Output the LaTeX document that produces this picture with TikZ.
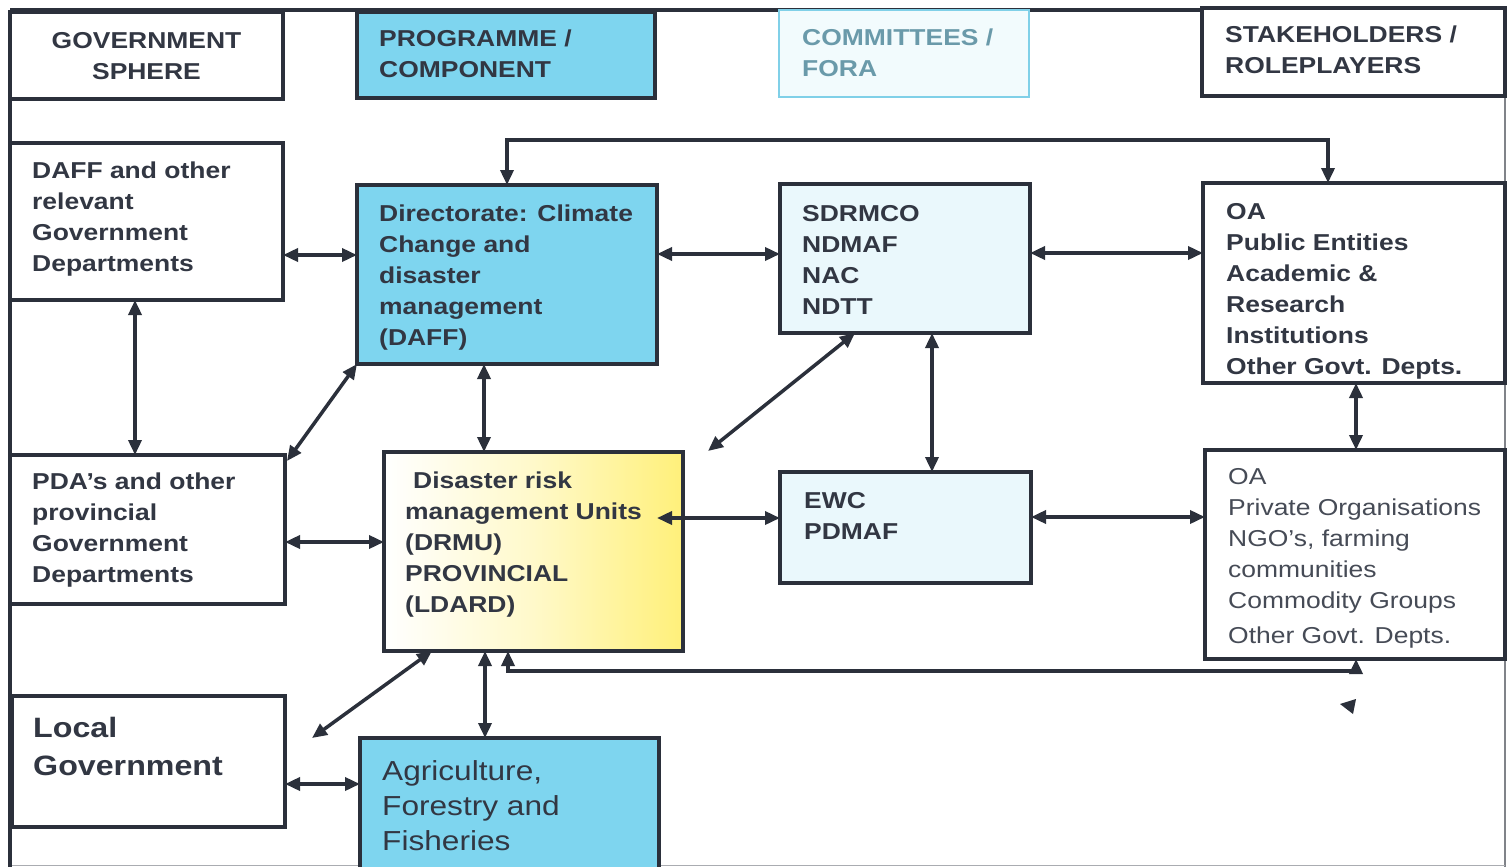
\documentclass[tikz,border=0pt]{standalone}
\usepackage{fontspec}
\setmainfont{Liberation Sans}[FakeStretch=1.15]
\usetikzlibrary{arrows.meta,calc}
\definecolor{ln}{HTML}{2B303B}
\definecolor{tx}{HTML}{323743}
\definecolor{cy}{HTML}{7ED5EF}
\definecolor{lcy}{HTML}{EAF8FC}
\definecolor{ccy}{HTML}{80D0E8}
\definecolor{ctx}{HTML}{6A9AAA}
\definecolor{yl}{HTML}{FFF07A}
\tikzset{
  box/.style={draw=ln, line width=3.5pt, anchor=north west, inner sep=0pt, outer sep=0pt},
  txt/.style={anchor=north west, inner sep=0pt, align=left, text=tx, font=\fontsize{23}{31}\selectfont\bfseries},
  rtxt/.style={txt, font=\fontsize{23}{31}\selectfont},
  conn/.style={draw=ln, line width=3.5pt, {Triangle[length=15pt,width=13pt]}-{Triangle[length=15pt,width=13pt]}},
}
\begin{document}
\begin{tikzpicture}[x=1pt,y=-1pt]
\clip (0,0) rectangle (1512,867);
\fill[white] (0,0) rectangle (1512,867);
% outer frame
\draw[ln!60, line width=1.5pt] (1505,10) -- (1505,867);
\draw[ln!40, line width=1pt] (10,865) -- (1505,865);
\draw[ln, line width=3.5pt] (10,10) -- (1505,10);
\draw[ln, line width=3.5pt] (10,10) -- (10,867);
% header boxes
\node[box, fill=white, minimum width=273pt, minimum height=87pt] (gov) at (10,12) {};
\node[txt, anchor=center, align=center] (govt) at (146.5,56) {GOVERNMENT\\SPHERE};
\node[box, fill=cy, minimum width=298pt, minimum height=86pt] (prog) at (357,12) {};
\node[txt] (progt) at (379,30) {PROGRAMME /\\COMPONENT};
\node[box, draw=ccy, line width=2pt, fill=lcy!60, minimum width=250pt, minimum height=87pt] (comm) at (779,10) {};
\node[txt, text=ctx] (commt) at (802,29) {COMMITTEES /\\FORA};
\node[box, fill=white, minimum width=303pt, minimum height=88pt] (stak) at (1202,8) {};
\node[txt] (stakt) at (1225,26) {STAKEHOLDERS /\\ROLEPLAYERS};
% row 1
\node[box, fill=white, minimum width=273pt, minimum height=157pt] (daff) at (10,143) {};
\node[txt] (dafft) at (32,162) {DAFF and other\\relevant\\Government\\Departments};
\node[box, fill=cy, minimum width=300pt, minimum height=179pt] (dir) at (357,185) {};
\node[txt] (dirt) at (379,205) {Directorate: Climate\\Change and\\disaster\\management\\(DAFF)};
\node[box, fill=lcy, minimum width=250pt, minimum height=149pt] (sdr) at (780,184) {};
\node[txt] (sdrt) at (802,205) {SDRMCO\\NDMAF\\NAC\\NDTT};
\node[box, fill=white, minimum width=302pt, minimum height=200pt] (oa) at (1203,183) {};
\begin{scope}
\clip (1203,183) rectangle (1505,382);
\node[txt] (oat) at (1226,203) {OA\\Public Entities\\Academic \&\\Research\\Institutions\\Other Govt. Depts.};
\end{scope}
% row 2
\node[box, fill=white, minimum width=275pt, minimum height=149pt] (pda) at (10,455) {};
\node[txt] (pdat) at (32,473) {PDA’s and other\\provincial\\Government\\Departments};
\node[box, left color=white, right color=yl, middle color=yl!40, minimum width=299pt, minimum height=199pt] (drmu) at (384,452) {};
\node[txt] (drmut) at (405,472) {\hspace*{8pt}Disaster risk\\management Units\\(DRMU)\\PROVINCIAL\\(LDARD)};
\node[box, fill=lcy, minimum width=251pt, minimum height=111pt] (ewc) at (780,472) {};
\node[txt] (ewct) at (804,492) {EWC\\PDMAF};
\node[box, fill=white, minimum width=300pt, minimum height=209pt] (oa2) at (1205,450) {};
\node[rtxt, text=tx!90] (oa2t) at (1228,468) {OA\\Private Organisations\\NGO’s, farming\\communities\\Commodity Groups\\[4pt]Other Govt. Depts.};
% row 3
\node[box, fill=white, minimum width=273pt, minimum height=131pt] (loc) at (12,696) {};
\node[txt, font=\fontsize{28}{38}\selectfont\bfseries] (loct) at (33,717) {Local\\Government};
\node[box, fill=cy, minimum width=299pt, minimum height=170pt] (agr) at (360,738) {};
\node[rtxt, font=\fontsize{27.5}{35}\selectfont] (agrt) at (382,760) {Agriculture,\\Forestry and\\Fisheries};
% free ends
\coordinate (c1) at (708,451);
\coordinate (c2) at (312,738);
% connectors
\draw[conn] (daff.east |- 0,255) -- (dir.west |- 0,255);
\draw[conn] (dir.east |- 0,254) -- (sdr.west |- 0,254);
\draw[conn] (sdr.east |- 0,253) -- (oa.west |- 0,253);
\draw[conn] (dir.north -| 507,0) -- (507,140) -- (1328,140) -- (oa.north -| 1328,0);
\draw[conn] (daff.south -| 135,0) -- (pda.north -| 135,0);
\draw[conn] (dir.south west) -- ($(pda.north east)+(2,6)$);
\draw[conn] (dir.south -| 484,0) -- (drmu.north -| 484,0);
\draw[conn] (sdr.south -| 855,0) -- (c1);
\draw[conn] (sdr.south -| 932,0) -- (ewc.north -| 932,0);
\draw[conn] (oa.south -| 1356,0) -- (oa2.north -| 1356,0);
\draw[conn] (pda.east |- 0,542) -- (drmu.west |- 0,542);
\draw[conn] ($(drmu.east |- 0,518)+(-26,0)$) -- (ewc.west |- 0,518);
\draw[conn] (ewc.east |- 0,517) -- (oa2.west |- 0,517);
\draw[conn] (oa2.south -| 1356,0) -- (1356,671) -- (508,671) -- (drmu.south -| 508,0);
\draw[conn] (drmu.south -| 432,0) -- (c2);
\draw[conn] (drmu.south -| 485,0) -- (agr.north -| 485,0);
\draw[conn] (loc.east |- 0,784) -- (agr.west |- 0,784);
% stray arrowhead
\fill[ln] (1340,704) -- (1356,699) -- (1353,714) -- cycle;
\end{tikzpicture}
\end{document}
